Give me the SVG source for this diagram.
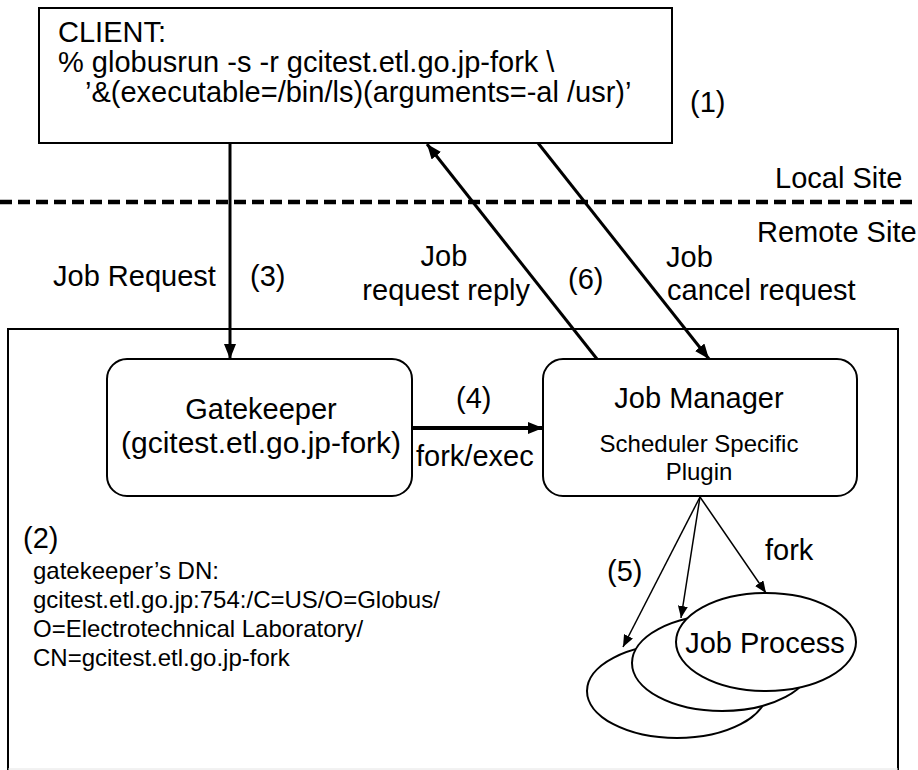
<svg xmlns="http://www.w3.org/2000/svg" width="918" height="770" viewBox="0 0 918 770">
  <style>
    .t { font-family: "Liberation Sans", Arial, Helvetica, sans-serif; fill: #000; }
    .f30 { font-size: 30px; }
    .f29 { font-size: 29px; }
    .f24 { font-size: 24px; }
    .mid { text-anchor: middle; }
    .end { text-anchor: end; }
    .box { fill: #fff; stroke: #000; stroke-width: 2; }
    .proc { fill: #fff; stroke: #000; stroke-width: 2; }
    .thick { stroke: #000; stroke-width: 3; fill: none; }
    .bold { stroke: #000; stroke-width: 4; fill: none; }
    .thin { stroke: #000; stroke-width: 1.5; fill: none; }
  </style>
  <defs>
    <marker id="head" markerUnits="userSpaceOnUse" markerWidth="16" markerHeight="12" refX="15" refY="6" orient="auto">
      <path d="M0,0 L15,6 L0,12 z" fill="#000"/>
    </marker>
    <marker id="headSmall" markerUnits="userSpaceOnUse" markerWidth="13" markerHeight="10" refX="12" refY="5" orient="auto">
      <path d="M0,0 L12,5 L0,10 z" fill="#000"/>
    </marker>
  </defs>

  <rect width="918" height="770" fill="#fff"/>

  <!-- site boundary -->
  <g id="site-boundary">
    <line x1="0" y1="202" x2="918" y2="202" stroke="#000" stroke-width="4.5" stroke-dasharray="12 6"/>
    <text class="t f29" x="775" y="188">Local Site</text>
    <text class="t f29" x="757" y="242">Remote Site</text>
  </g>

  <!-- remote site frame -->
  <g id="remote-site">
    <path d="M8,775 V329 H898 V775" fill="none" stroke="#000" stroke-width="2"/>
    <line x1="8" y1="769" x2="898" y2="769" stroke="#e4e4e4" stroke-width="1"/>
  </g>

  <!-- client -->
  <g id="client">
    <rect class="box" x="39" y="8" width="633" height="135"/>
    <text class="t f29" x="58" y="42">CLIENT:</text>
    <text class="t f29" x="58" y="72">% globusrun -s -r gcitest.etl.go.jp-fork \</text>
    <text class="t f29" x="85" y="102">’&amp;(executable=/bin/ls)(arguments=-al /usr)’</text>
  </g>
  <text class="t f29" x="690" y="112">(1)</text>

  <!-- gatekeeper -->
  <g id="gatekeeper">
    <rect class="box" x="107" y="359" width="305" height="137" rx="20" ry="20"/>
    <text class="t f29 mid" x="261" y="419">Gatekeeper</text>
    <text class="t f30 mid" x="261" y="453">(gcitest.etl.go.jp-fork)</text>
  </g>

  <!-- job manager -->
  <g id="job-manager">
    <rect class="box" x="543" y="359" width="314" height="137" rx="20" ry="20"/>
    <text class="t f29 mid" x="699" y="408">Job Manager</text>
    <text class="t f24 mid" x="699" y="452">Scheduler Specific</text>
    <text class="t f24 mid" x="699" y="480">Plugin</text>
  </g>

  <!-- job processes, back to front -->
  <g id="job-process-3">
    <ellipse class="proc" cx="677" cy="691" rx="90" ry="47"/>
  </g>
  <g id="job-process-2">
    <ellipse class="proc" cx="722" cy="663" rx="90" ry="48"/>
  </g>
  <g id="job-process-1">
    <ellipse class="proc" cx="766" cy="642" rx="90" ry="49"/>
    <text class="t f29 mid" x="765" y="653">Job Process</text>
  </g>

  <!-- connectors -->
  <g id="connectors">
    <line class="thick" x1="230" y1="143" x2="230" y2="359" marker-end="url(#head)"/>
    <line class="thick" x1="597" y1="359" x2="427" y2="144" marker-end="url(#head)"/>
    <line class="thick" x1="538" y1="143" x2="709" y2="359" marker-end="url(#head)"/>
    <line class="bold" x1="412" y1="428" x2="543" y2="428" marker-end="url(#head)"/>
    <line class="thin" x1="700" y1="497" x2="623" y2="647" marker-end="url(#headSmall)"/>
    <line class="thin" x1="700" y1="497" x2="681" y2="618" marker-end="url(#headSmall)"/>
    <line class="thin" x1="700" y1="497" x2="766" y2="593" marker-end="url(#headSmall)"/>
  </g>

  <!-- connector labels -->
  <g id="labels">
    <text class="t f29" x="53" y="286">Job Request</text>
    <text class="t f29" x="250" y="286">(3)</text>
    <text class="t f29 mid" x="444" y="266">Job</text>
    <text class="t f29 end" x="530" y="300">request reply</text>
    <text class="t f29" x="568" y="289">(6)</text>
    <text class="t f29" x="666" y="267">Job</text>
    <text class="t f29" x="667" y="300">cancel request</text>
    <text class="t f29" x="456" y="408">(4)</text>
    <text class="t f29" x="416" y="466">fork/exec</text>
    <text class="t f29" x="607" y="581">(5)</text>
    <text class="t f29" x="765" y="560">fork</text>
  </g>

  <!-- gatekeeper identity -->
  <g id="gatekeeper-dn">
    <text class="t f29" x="23" y="548">(2)</text>
    <text class="t f24" x="33" y="579">gatekeeper’s DN:</text>
    <text class="t f24" x="33" y="608">gcitest.etl.go.jp:754:/C=US/O=Globus/</text>
    <text class="t f24" x="33" y="637">O=Electrotechnical Laboratory/</text>
    <text class="t f24" x="33" y="666">CN=gcitest.etl.go.jp-fork</text>
  </g>
</svg>
